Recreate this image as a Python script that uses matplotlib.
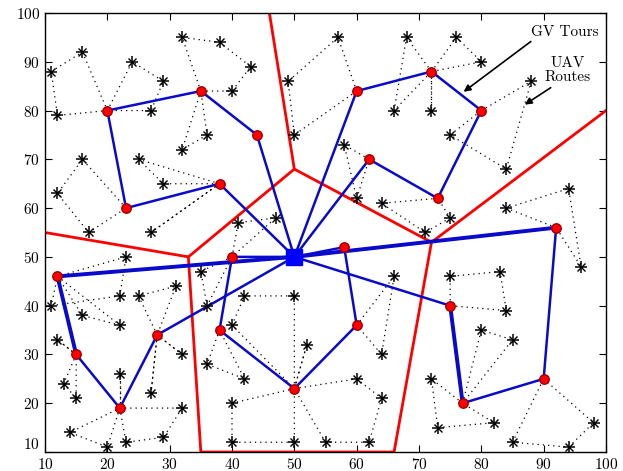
import matplotlib
matplotlib.use("Agg")
import matplotlib.pyplot as plt

plt.rcParams["font.family"] = ["cmr10", "DejaVu Serif"]
plt.rcParams["axes.formatter.use_mathtext"] = True

# UAV targets (black asterisks)
star_x = [11, 16, 12, 24, 29, 32, 38, 43, 40, 27, 36, 32, 16, 25, 29, 12, 17, 27, 41, 47, 49, 50,
          57, 68, 76, 80, 88, 66, 72, 75, 58, 84, 94, 60, 64, 75, 84, 71,
          23, 35, 31, 22, 25, 11, 36, 16, 22, 42, 50, 40, 12, 52, 32, 36, 22, 42, 13, 27, 15, 40,
          32, 14, 29, 23, 20, 40, 50,
          96, 66, 75, 83, 84, 80, 85, 64, 60, 72, 64, 82, 98, 73, 55, 62, 85, 94]
star_y = [88, 92, 79, 90, 86, 95, 94, 89, 84, 80, 75, 72, 70, 70, 65, 63, 55, 55, 57, 58, 86, 75,
          95, 95, 95, 90, 86, 80, 80, 75, 73, 68, 64, 62, 61, 58, 60, 55,
          50, 47, 44, 42, 42, 40, 40, 38, 36, 42, 42, 36, 33, 32, 30, 28, 26, 25, 24, 22, 21, 20,
          19, 14, 13, 12, 11, 12, 12,
          48, 46, 46, 47, 39, 35, 33, 30, 25, 25, 21, 16, 16, 15, 12, 12, 12, 11]

# GV stops (red circles) and depot
stop_x = [20, 35, 44, 23, 38, 60, 72, 80, 62, 73, 92, 75, 77, 90, 12, 15, 22, 28, 40, 38, 50, 60, 58]
stop_y = [80, 84, 75, 60, 65, 84, 88, 80, 70, 62, 56, 40, 20, 25, 46, 30, 19, 34, 50, 35, 23, 36, 52]
depot = (50, 50)

# GV tours, each starts and ends at the depot
gv_tours = [
    [(44, 75), (35, 84), (20, 80), (23, 60), (38, 65)],
    [(60, 84), (72, 88), (80, 80), (73, 62), (62, 70)],
    [(92, 56), (90, 25), (77, 20), (75, 40)],
    [(12, 46), (15, 30), (22, 19), (28, 34)],
    [(40, 50), (38, 35), (50, 23), (60, 36), (58, 52)],
]
heavy_edges = [((50, 50), (12, 46)), ((50, 50), (92, 56)), ((12, 46), (15, 30)), ((75, 40), (77, 20))]

# UAV routes: stop -> targets -> stop
uav_routes = [
    ((20, 80), [(12, 79), (11, 88), (16, 92)]),
    ((20, 80), [(24, 90), (29, 86), (27, 80)]),
    ((35, 84), [(32, 95), (38, 94), (43, 89), (40, 84)]),
    ((35, 84), [(32, 72), (36, 75)]),
    ((23, 60), [(16, 70), (12, 63), (17, 55)]),
    ((38, 65), [(25, 70), (29, 65)]),
    ((38, 65), [(27, 55)]),
    ((40, 50), [(41, 57), (47, 58)]),
    ((40, 50), [(35, 47), (36, 40)]),
    ((60, 84), [(57, 95), (49, 86), (50, 75)]),
    ((72, 88), [(68, 95), (66, 80)]),
    ((72, 88), [(76, 95), (80, 90)]),
    ((72, 88), [(72, 80)]),
    ((80, 80), [(88, 86), (84, 68), (75, 75)]),
    ((62, 70), [(58, 73), (60, 62)]),
    ((73, 62), [(64, 61), (71, 55), (75, 58)]),
    ((92, 56), [(84, 60), (94, 64), (96, 48)]),
    ((75, 40), [(75, 46), (83, 47), (84, 39)]),
    ((77, 20), [(80, 35), (85, 33)]),
    ((77, 20), [(72, 25), (73, 15), (82, 16)]),
    ((90, 25), [(98, 16), (94, 11), (85, 12)]),
    ((60, 36), [(66, 46), (64, 30)]),
    ((50, 23), [(50, 42), (42, 42), (40, 36)]),
    ((50, 23), [(40, 20), (40, 12), (50, 12)]),
    ((50, 23), [(60, 25), (64, 21), (62, 12), (55, 12)]),
    ((50, 23), [(52, 32)]),
    ((38, 35), [(36, 28), (42, 25)]),
    ((28, 34), [(25, 42), (31, 44)]),
    ((28, 34), [(32, 30)]),
    ((28, 34), [(27, 22)]),
    ((22, 19), [(32, 19), (29, 13), (23, 12)]),
    ((22, 19), [(20, 11), (14, 14)]),
    ((22, 19), [(22, 26)]),
    ((15, 30), [(13, 24), (15, 21)]),
    ((15, 30), [(12, 33)]),
    ((12, 46), [(23, 50), (22, 42), (11, 40)]),
    ((12, 46), [(16, 38), (22, 36)]),
]

# partition boundaries (red)
partition_lines = [
    [(10, 55), (33, 50), (50, 68), (46, 100)],
    [(33, 50), (35, 10), (66, 10), (72, 53), (50, 68)],
    [(72, 53), (100, 80)],
]

fig = plt.figure(figsize=(6.23, 4.71), dpi=100)
ax = fig.add_axes([45 / 623, 19 / 471, 561 / 623, 439 / 471])

for stop, targets in uav_routes:
    pts = [stop] + targets + [stop]
    ax.plot([p[0] for p in pts], [p[1] for p in pts], color="black", lw=0.9,
            linestyle=(0, (1, 3.2)), zorder=1)

for line in partition_lines:
    ax.plot([p[0] for p in line], [p[1] for p in line], color="red", lw=2.0,
            solid_joinstyle="miter", zorder=2)

for tour in gv_tours:
    pts = [depot] + tour + [depot]
    ax.plot([p[0] for p in pts], [p[1] for p in pts], color="#0a0acc", lw=1.8, zorder=3)
for a, b in heavy_edges:
    ax.plot([a[0], b[0]], [a[1], b[1]], color="#0a0acc", lw=2.8, zorder=3)

ax.plot(star_x, star_y, linestyle="none", marker="+", ms=9, mew=1.1, color="black", zorder=4)
ax.plot(star_x, star_y, linestyle="none", marker="x", ms=5.5, mew=1.0, color="black", zorder=4)
ax.plot(stop_x, stop_y, linestyle="none", marker="o", ms=6.8, mfc="red", mec="#a00000",
        mew=1.0, zorder=5)
ax.plot([depot[0]], [depot[1]], linestyle="none", marker="s", ms=11, color="blue", zorder=6)

ax.text(93.4, 96, "GV Tours", ha="center", va="center", fontsize=11)
ax.annotate("", xy=(76.8, 83.5), xytext=(88.3, 94.5),
            arrowprops=dict(arrowstyle="-|>", color="black", lw=1.2, mutation_scale=10))
ax.text(93.9, 88.3, "UAV\nRoutes", ha="center", va="center", fontsize=11, linespacing=0.95)
ax.annotate("", xy=(86.6, 80.9), xytext=(91.5, 85),
            arrowprops=dict(arrowstyle="-|>", color="black", lw=1.2, mutation_scale=10))

ax.set_xlim(10, 100)
ax.set_ylim(10, 100)
ax.set_xticks(range(10, 101, 10))
ax.set_yticks(range(10, 101, 10))
ax.tick_params(direction="in", top=True, right=True, labelsize=11, length=5, width=0.8)
ax.get_yticklabels()[0].set_verticalalignment("bottom")
for sp in ax.spines.values():
    sp.set_linewidth(1.0)

fig.savefig("out.png", dpi=100)
